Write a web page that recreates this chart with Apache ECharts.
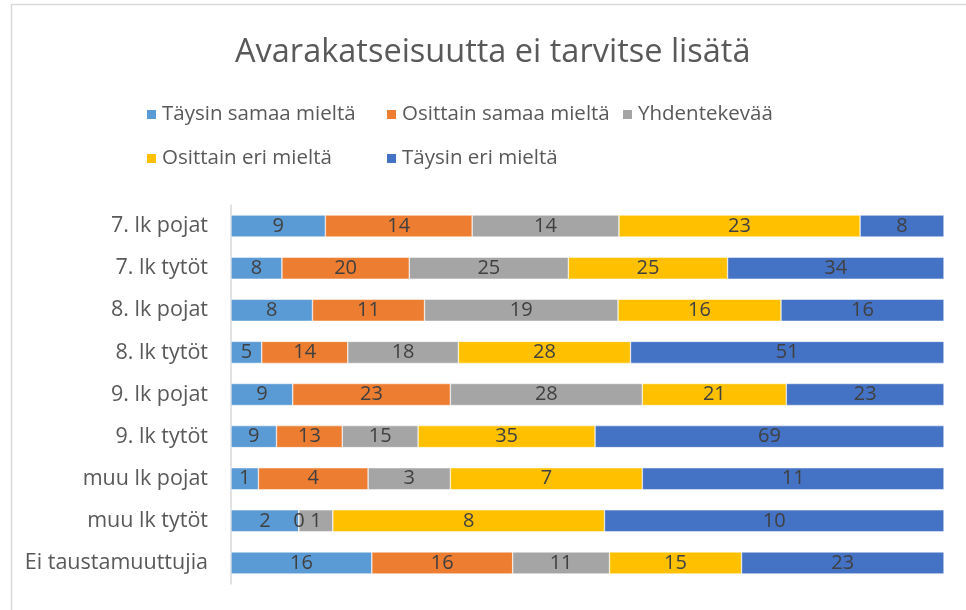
<!DOCTYPE html>
<html>
<head>
<meta charset="utf-8">
<style>
    html, body { margin: 0; padding: 0; background: #fff; }
    #chart { width: 966px; height: 610px; }
</style>
<script src="https://cdn.jsdelivr.net/npm/echarts@6/dist/echarts.min.js"></script>
</head>
<body>
<div id="chart"></div>
<script>
//vastaukset luokittain
var categories = ['7. lk pojat', '7. lk tytöt', '8. lk pojat', '8. lk tytöt', '9. lk pojat',
    '9. lk tytöt', 'muu lk pojat', 'muu lk tytöt', 'Ei taustamuuttujia'];
var seriesNames = ['Täysin samaa mieltä', 'Osittain samaa mieltä', 'Yhdentekevää',
    'Osittain eri mieltä', 'Täysin eri mieltä'];
var taysinSamaa = [9, 8, 8, 5, 9, 9, 1, 2, 16];
var osittainSamaa = [14, 20, 11, 14, 23, 13, 4, 0, 16];
var yhdentekevaa = [14, 25, 19, 18, 28, 15, 3, 1, 11];
var osittainEri = [23, 25, 16, 28, 21, 35, 7, 8, 15];
var taysinEri = [8, 34, 16, 51, 23, 69, 11, 10, 23];
var colors = ['#5B9BD5', '#ED7D31', '#A5A5A5', '#FFC000', '#4472C4'];

(function () {
    var chart = echarts.init(document.getElementById('chart'));
    var raw = [taysinSamaa, osittainSamaa, yhdentekevaa, osittainEri, taysinEri];

    // rivisummat -> 100 % pinottu
    var totals = categories.map(function (c, i) {
        var s = 0;
        raw.forEach(function (arr) { s += arr[i]; });
        return s;
    });

    var series = raw.map(function (arr, k) {
        return {
            name: seriesNames[k],
            type: 'bar',
            stack: 'all',
            barWidth: 22,
            itemStyle: { color: colors[k], borderColor: '#fff', borderWidth: 0.5 },
            label: {
                show: true,
                position: 'inside',
                color: '#404040',
                fontSize: 20,
                fontFamily: 'Open Sans',
                formatter: function (p) { return arr[p.dataIndex]; }
            },
            data: arr.map(function (v, i) { return v / totals[i] * 100; })
        };
    });

    var legendPos = [[140, 99], [380, 99], [616, 99], [140, 143], [380, 143]];
    var legends = seriesNames.map(function (n, k) {
        return {
            data: [n],
            left: legendPos[k][0],
            top: legendPos[k][1],
            itemWidth: 11,
            itemHeight: 11,
            icon: 'rect',
            textStyle: { color: '#595959', fontSize: 20.5, fontFamily: 'Open Sans' }
        };
    });

    var option = {
        animation: false,
        title: {
            text: 'Avarakatseisuutta ei tarvitse lisätä',
            left: 230,
            top: 31,
            textStyle: { color: '#595959', fontSize: 32.5, fontWeight: 'normal', fontFamily: 'Open Sans' }
        },
        graphic: [{
            type: 'rect',
            shape: { x: 11.5, y: 4.5, width: 1000, height: 700 },
            style: { fill: 'none', stroke: '#d9d9d9', lineWidth: 1.5 }
        }],
        legend: legends,
        grid: { left: 231, right: 22, top: 205, bottom: 26 },
        xAxis: {
            type: 'value',
            min: 0,
            max: 100,
            show: false
        },
        yAxis: {
            type: 'category',
            inverse: true,
            data: categories,
            axisLine: { lineStyle: { color: '#d9d9d9', width: 1.5 } },
            axisTick: { show: false },
            axisLabel: { color: '#595959', fontSize: 21.5, fontFamily: 'Open Sans', margin: 23 }
        },
        series: series
    };

    chart.setOption(option);
})();
</script>
</body>
</html>
